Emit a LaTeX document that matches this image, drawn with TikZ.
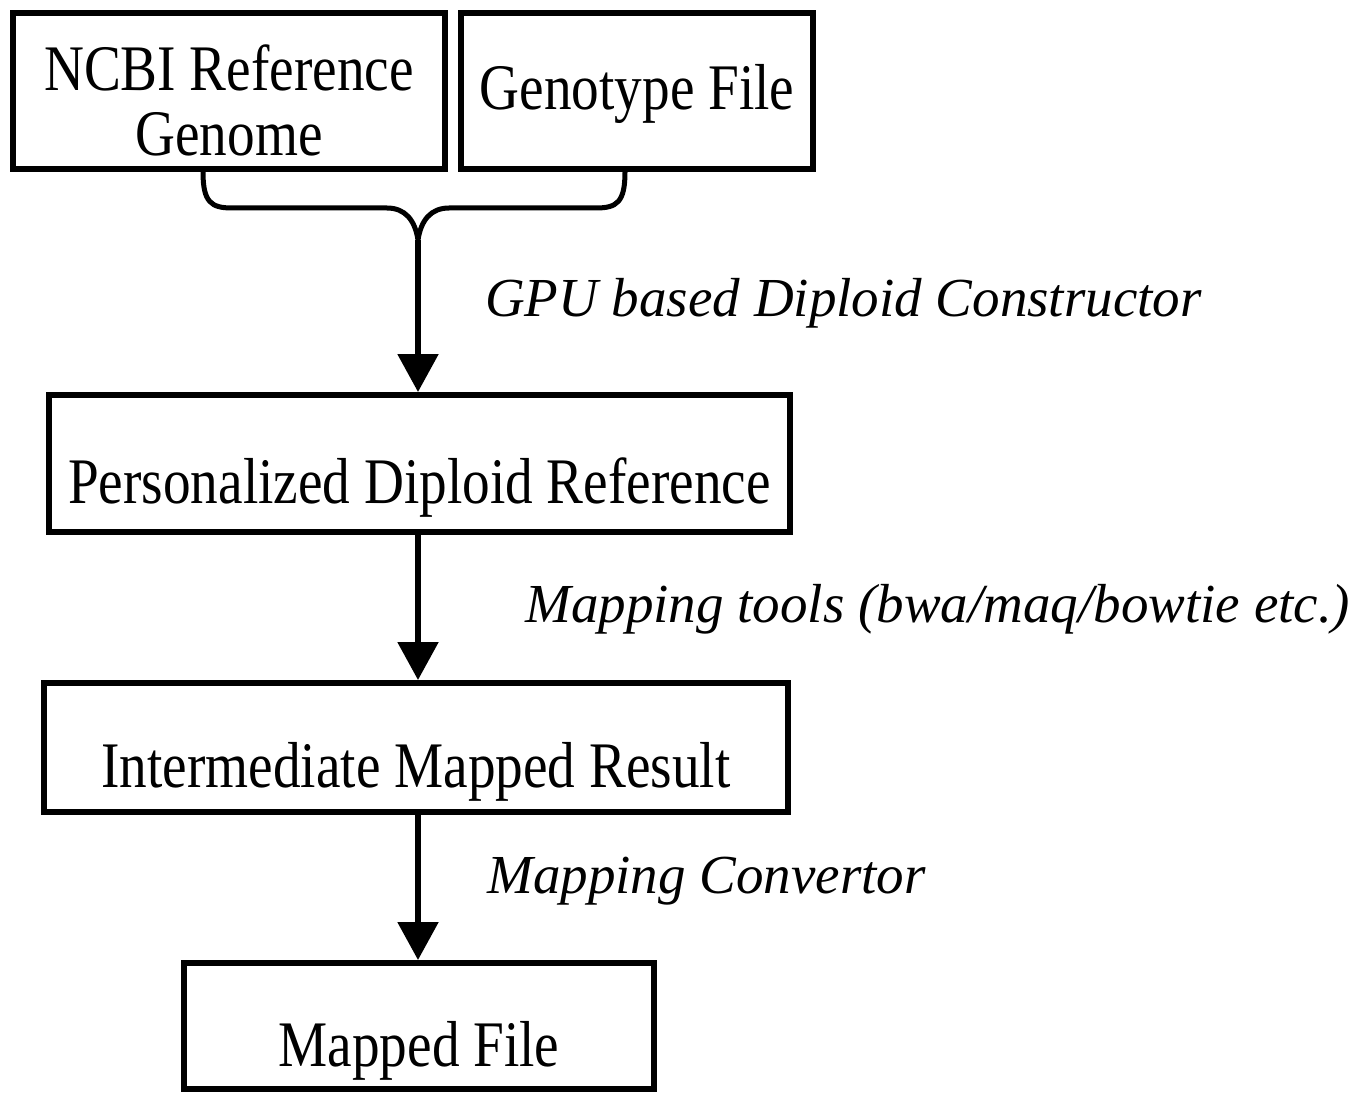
\documentclass[tikz,border=0pt]{standalone}
\usepackage{fontspec}
\setmainfont{Liberation Serif}
\newfontfamily\boxfont[FakeStretch=0.85]{Liberation Serif}
\usetikzlibrary{arrows.meta,calc}
\begin{document}
\begin{tikzpicture}[x=1pt,y=-1pt,
  box/.style={draw,line width=6pt,inner sep=0pt,align=center,
    font=\boxfont\fontsize{65}{65}\selectfont,text depth=0pt},
  lab/.style={anchor=base west,inner sep=0pt,font=\fontsize{55}{63}\selectfont\itshape},
  arr/.style={line width=5.5pt,-{Triangle[length=38pt,width=40pt]}},
  brace/.style={line width=5pt}]
\useasboundingbox[fill=white] (0,0) rectangle (1370,1094);
\node[box,minimum width=432pt,minimum height=156pt,text height=130pt] (ncbi) at (229,91) {NCBI Reference\\Genome};
\node[box,minimum width=352pt,minimum height=156pt,text height=38pt] (geno) at (637,91) {Genotype File};
\node[box,minimum width=741pt,minimum height=137pt,text height=80pt] (pdr) at (419.5,463.5) {Personalized Diploid Reference};
\node[box,minimum width=744pt,minimum height=129pt,text height=80pt] (imr) at (416,747.5) {Intermediate Mapped Result};
\node[box,minimum width=470pt,minimum height=126pt,text height=80pt] (mf) at (419,1026) {Mapped File};
\coordinate (bl) at ($(ncbi.south)+(-26,0)$);
\coordinate (br) at ($(geno.south)+(-12,0)$);
\coordinate (tip) at (418,240);
\draw[brace] (bl) .. controls ($(bl)+(0,30)$) and ($(bl)+(8,36)$) .. ($(bl)+(29,36)$)
  -- (387,208) .. controls (405,208) and (415,220) .. (tip)
  .. controls (421,220) and (431,208) .. (449,208)
  -- ($(br)+(-29,36)$) .. controls ($(br)+(-8,36)$) and ($(br)+(0,30)$) .. (br);
\draw[arr] (tip) -- (pdr.north -| tip);
\draw[arr] (pdr.south -| tip) -- (imr.north -| tip);
\draw[arr] (imr.south -| tip) -- (mf.north -| tip);
\node[lab] (l1) at (485,316) {GPU based Diploid Constructor};
\node[lab] (l2) at (525,622) {Mapping tools (bwa/maq/bowtie etc.)};
\node[lab] (l3) at (487,893) {Mapping Convertor};
\end{tikzpicture}
\end{document}
